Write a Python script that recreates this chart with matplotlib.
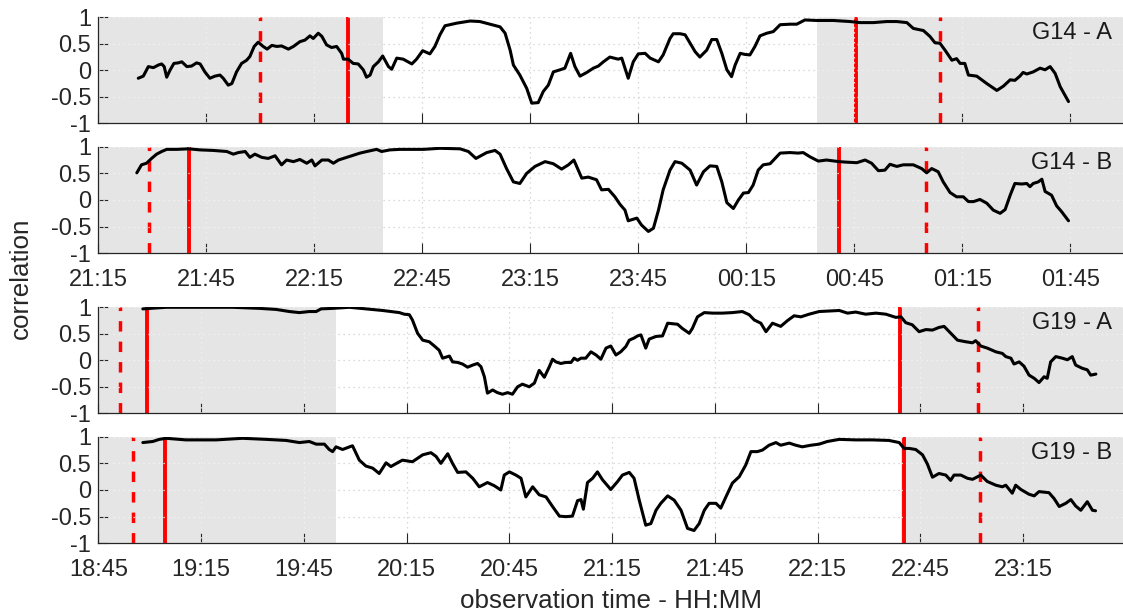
import numpy as np
import matplotlib
matplotlib.use("Agg")
import matplotlib.pyplot as plt
import matplotlib.transforms as mtransforms
from matplotlib.ticker import FixedLocator, FuncFormatter

plt.rcParams['font.family'] = ['Liberation Sans', 'DejaVu Sans']
plt.rcParams['axes.unicode_minus'] = False

# ---------------------------------------------------------------------------
# Correlation series: (minutes after session start, correlation)
# G14 sessions start at 21:15, G19 sessions start at 18:45
# ---------------------------------------------------------------------------
g14_start = 21 * 60 + 15
g19_start = 18 * 60 + 45

g14a = [
    (11.1, -0.15), (12.5, -0.11), (13.9, 0.07), (15.3, 0.05), (16.7, 0.10), (17.6, 0.12),
    (18.3, 0.07), (19.0, -0.13), (19.9, 0.0), (21.0, 0.13), (22.2, 0.14), (23.2, 0.16),
    (24.6, 0.07), (25.9, 0.08), (27.3, 0.14), (28.3, 0.12), (29.6, -0.03), (31.0, -0.15),
    (32.4, -0.11), (33.8, -0.09), (34.7, -0.15), (36.1, -0.28), (37.1, -0.25), (38.4, -0.03),
    (39.8, 0.13), (41.2, 0.19), (42.1, 0.26), (43.3, 0.45), (44.4, 0.53), (45.8, 0.45),
    (46.9, 0.40), (48.2, 0.47), (49.6, 0.45), (50.9, 0.46), (52.8, 0.40), (54.2, 0.45),
    (56.0, 0.54), (57.4, 0.57), (58.8, 0.65), (59.7, 0.60), (61.1, 0.70), (62.1, 0.64),
    (63.4, 0.48), (64.8, 0.43), (66.2, 0.45), (67.6, 0.32), (68.1, 0.21), (69.4, 0.21),
    (70.8, 0.13), (72.2, 0.12), (73.6, 0.01), (74.5, -0.13), (75.5, -0.09), (76.4, 0.07),
    (77.8, 0.16), (79.0, 0.27), (80.6, 0.07), (81.5, 0.02), (82.9, 0.23), (84.7, 0.21),
    (87.1, 0.12), (88.4, 0.21), (90.1, 0.37), (92.1, 0.31), (93.5, 0.45), (94.9, 0.67),
    (96.3, 0.84), (99.6, 0.89), (103.3, 0.93), (106.0, 0.92), (108.8, 0.87), (111.6, 0.82),
    (113.0, 0.70), (114.4, 0.38), (115.3, 0.10), (117.1, -0.09), (119.0, -0.34), (120.4, -0.62),
    (122.2, -0.61), (123.6, -0.40), (125.0, -0.28), (126.4, -0.03), (128.3, 0.01), (129.6, 0.04),
    (131.2, 0.32), (132.4, 0.07), (133.8, -0.11), (135.7, -0.04), (137.5, 0.04), (138.9, 0.08),
    (140.3, 0.16), (142.1, 0.25), (144.4, 0.21), (145.4, 0.23), (147.2, -0.15), (148.6, 0.16),
    (150.0, 0.31), (151.9, 0.32), (153.3, 0.23), (155.6, 0.16), (156.9, 0.29), (158.8, 0.60),
    (159.7, 0.69), (161.6, 0.69), (163.0, 0.67), (164.4, 0.51), (165.8, 0.35), (167.1, 0.25),
    (169.0, 0.38), (170.4, 0.58), (171.8, 0.58), (173.2, 0.32), (174.6, 0.01), (175.9, -0.12),
    (176.9, 0.10), (178.3, 0.32), (179.6, 0.30), (181.0, 0.29), (182.4, 0.45), (183.8, 0.65),
    (185.7, 0.70), (187.5, 0.73), (189.4, 0.86), (192.1, 0.87), (194.0, 0.87), (196.3, 0.95),
    (199.6, 0.94), (204.2, 0.94), (208.8, 0.92), (211.6, 0.90), (215.3, 0.90), (219.0, 0.92),
    (221.8, 0.92), (224.6, 0.90), (226.4, 0.79), (229.2, 0.75), (231.0, 0.64), (232.4, 0.52),
    (233.8, 0.51), (235.2, 0.38), (237.1, 0.19), (238.4, 0.22), (239.4, 0.13), (240.7, 0.13),
    (241.7, -0.09), (244.0, -0.11), (246.8, -0.25), (249.6, -0.38), (251.4, -0.30), (253.3, -0.18),
    (254.6, -0.19), (256.0, -0.11), (256.9, -0.04), (257.9, -0.07), (259.7, -0.03), (261.6, 0.04),
    (263.0, 0.01), (264.4, 0.07), (265.8, -0.06), (267.2, -0.31), (269.5, -0.59),
]

g14b = [
    (10.7, 0.51), (12.0, 0.66), (13.4, 0.69), (14.8, 0.78), (16.2, 0.86), (17.6, 0.91),
    (19.0, 0.95), (21.8, 0.95), (25.1, 0.96), (28.3, 0.94), (31.9, 0.93), (35.7, 0.91),
    (37.5, 0.86), (38.9, 0.89), (40.8, 0.91), (42.1, 0.80), (43.5, 0.86), (45.4, 0.80),
    (47.2, 0.78), (49.1, 0.83), (50.9, 0.66), (52.3, 0.75), (54.2, 0.72), (56.0, 0.76),
    (57.9, 0.69), (59.3, 0.75), (60.2, 0.64), (62.1, 0.75), (63.9, 0.75), (65.3, 0.69),
    (66.7, 0.75), (68.1, 0.78), (70.8, 0.84), (72.7, 0.88), (74.6, 0.91), (77.3, 0.95),
    (78.7, 0.91), (81.0, 0.94), (83.8, 0.95), (90.3, 0.95), (94.9, 0.97), (100.5, 0.96),
    (102.8, 0.91), (104.9, 0.78), (107.9, 0.89), (110.2, 0.93), (111.6, 0.86), (113.4, 0.59),
    (115.3, 0.34), (117.1, 0.31), (119.0, 0.50), (121.3, 0.63), (124.1, 0.72), (126.4, 0.68),
    (128.7, 0.58), (130.6, 0.66), (132.1, 0.75), (134.3, 0.41), (136.1, 0.43), (138.4, 0.38),
    (139.8, 0.19), (141.7, 0.20), (143.5, 0.06), (144.9, -0.08), (146.3, -0.19), (147.2, -0.39),
    (149.6, -0.34), (150.9, -0.47), (152.8, -0.59), (154.2, -0.53), (155.6, -0.19), (156.9, 0.19),
    (158.8, 0.56), (160.2, 0.72), (162.1, 0.69), (164.4, 0.56), (166.2, 0.28), (168.1, 0.53),
    (169.9, 0.64), (171.8, 0.63), (173.2, 0.34), (174.6, -0.05), (176.4, -0.16), (177.8, 0.0),
    (179.2, 0.13), (180.6, 0.14), (181.9, 0.28), (183.3, 0.56), (184.7, 0.66), (186.6, 0.68),
    (189.4, 0.88), (192.1, 0.89), (194.4, 0.88), (195.8, 0.89), (197.7, 0.81), (200.0, 0.73),
    (202.3, 0.75), (205.7, 0.72), (207.9, 0.71), (210.7, 0.70), (213.0, 0.75), (214.8, 0.69),
    (216.7, 0.55), (218.5, 0.56), (219.9, 0.67), (221.8, 0.63), (223.6, 0.66), (226.4, 0.66),
    (228.7, 0.59), (230.1, 0.51), (231.5, 0.59), (233.3, 0.53), (234.7, 0.34), (236.6, 0.14),
    (238.4, 0.06), (240.3, 0.06), (241.7, -0.03), (243.1, -0.03), (244.9, 0.01), (246.8, -0.06),
    (248.6, -0.19), (250.5, -0.25), (251.9, -0.18), (253.3, 0.09), (254.6, 0.31), (256.5, 0.30),
    (257.9, 0.31), (258.8, 0.25), (259.7, 0.31), (261.1, 0.34), (262.1, 0.39), (263.0, 0.16),
    (264.8, 0.09), (266.2, -0.11), (267.6, -0.22), (269.5, -0.39),
]

g19a = [
    (13.0, 0.97), (19.8, 1.0), (29.5, 1.0), (39.2, 1.0), (47.0, 0.98), (51.9, 0.96),
    (55.8, 0.92), (58.7, 0.90), (61.6, 0.92), (63.6, 0.92), (65.0, 0.97), (68.4, 0.98),
    (73.3, 1.0), (78.1, 0.97), (83.0, 0.94), (87.9, 0.90), (89.3, 0.87), (90.8, 0.86),
    (91.7, 0.76), (93.2, 0.51), (94.7, 0.38), (96.6, 0.35), (98.1, 0.27), (99.5, 0.19),
    (100.5, 0.04), (102.5, 0.08), (103.4, -0.03), (104.9, -0.04), (106.3, -0.07), (107.8, -0.13),
    (109.3, -0.09), (110.7, -0.06), (111.7, -0.12), (112.7, -0.31), (113.6, -0.62), (115.1, -0.56),
    (116.5, -0.61), (118.0, -0.64), (119.5, -0.61), (120.9, -0.64), (122.4, -0.50), (123.8, -0.45),
    (125.8, -0.50), (127.3, -0.43), (128.7, -0.19), (130.2, -0.32), (131.6, -0.13), (132.6, 0.02),
    (133.6, -0.03), (135.0, -0.06), (136.5, -0.04), (138.0, -0.04), (138.9, 0.04), (139.9, 0.0),
    (140.9, 0.04), (142.3, 0.04), (143.8, 0.16), (145.3, 0.10), (146.7, 0.02), (148.2, 0.23),
    (149.6, 0.27), (151.1, 0.10), (152.5, 0.16), (154.0, 0.26), (155.0, 0.38), (156.4, 0.42),
    (157.4, 0.46), (158.4, 0.48), (159.8, 0.23), (160.8, 0.40), (162.8, 0.45), (164.7, 0.46),
    (166.2, 0.70), (167.6, 0.69), (169.1, 0.68), (170.5, 0.60), (172.5, 0.51), (173.4, 0.60),
    (174.9, 0.82), (176.9, 0.90), (179.3, 0.89), (182.2, 0.89), (185.1, 0.90), (188.0, 0.92),
    (190.0, 0.86), (191.5, 0.76), (193.4, 0.70), (194.9, 0.54), (196.8, 0.70), (199.2, 0.64),
    (201.2, 0.75), (203.1, 0.84), (205.1, 0.82), (207.5, 0.87), (210.4, 0.92), (213.3, 0.93),
    (216.3, 0.94), (218.7, 0.89), (221.1, 0.91), (224.0, 0.87), (227.0, 0.89), (229.9, 0.87),
    (232.8, 0.81), (234.3, 0.82), (235.7, 0.71), (237.6, 0.67), (239.6, 0.54), (241.6, 0.58),
    (243.5, 0.57), (245.4, 0.62), (246.9, 0.64), (248.4, 0.54), (250.8, 0.38), (253.2, 0.35),
    (255.2, 0.33), (256.1, 0.37), (257.6, 0.27), (259.5, 0.23), (262.0, 0.16), (263.9, 0.13),
    (264.9, 0.07), (266.4, 0.04), (267.3, -0.07), (268.8, -0.03), (270.2, -0.11), (271.7, -0.28),
    (273.2, -0.34), (274.6, -0.42), (276.1, -0.31), (277.0, -0.34), (278.0, -0.03), (279.5, 0.07),
    (281.4, 0.04), (282.9, 0.01), (284.3, 0.07), (285.3, -0.09), (287.2, -0.15), (288.7, -0.18),
    (289.7, -0.28), (291.2, -0.26),
]

g19b = [
    (13.0, 0.89), (15.9, 0.91), (17.8, 0.95), (19.8, 0.97), (25.6, 0.94), (34.4, 0.94),
    (42.1, 0.97), (49.0, 0.95), (54.8, 0.93), (58.7, 0.89), (61.6, 0.91), (63.6, 0.86),
    (66.0, 0.86), (67.4, 0.76), (68.4, 0.72), (69.4, 0.81), (71.3, 0.76), (74.2, 0.83),
    (76.2, 0.56), (78.1, 0.45), (80.1, 0.41), (82.0, 0.31), (84.0, 0.51), (85.4, 0.44),
    (87.9, 0.53), (88.8, 0.56), (91.7, 0.53), (94.7, 0.66), (97.1, 0.70), (98.6, 0.63),
    (100.0, 0.50), (102.0, 0.68), (103.4, 0.50), (104.9, 0.33), (107.3, 0.34), (109.3, 0.22),
    (111.2, 0.06), (113.6, 0.14), (115.6, 0.08), (117.5, 0.0), (118.5, 0.28), (120.0, 0.34),
    (121.9, 0.28), (123.4, 0.22), (124.8, -0.13), (126.8, 0.06), (128.7, -0.09), (130.7, -0.13),
    (132.6, -0.31), (134.6, -0.49), (136.5, -0.50), (138.4, -0.49), (139.9, -0.20), (140.9, -0.18),
    (141.6, -0.36), (142.8, 0.14), (144.3, 0.22), (145.7, 0.34), (147.2, 0.19), (149.6, 0.01),
    (151.6, 0.16), (153.0, 0.28), (155.0, 0.33), (156.4, 0.22), (157.9, -0.19), (159.8, -0.66),
    (161.3, -0.63), (162.8, -0.38), (164.2, -0.25), (166.2, -0.11), (168.1, -0.19), (170.1, -0.38),
    (172.0, -0.72), (173.9, -0.76), (175.4, -0.63), (176.9, -0.38), (178.3, -0.25), (180.3, -0.25),
    (181.7, -0.34), (183.2, -0.13), (185.1, 0.13), (187.1, 0.25), (189.0, 0.47), (190.5, 0.72),
    (192.4, 0.72), (193.9, 0.75), (195.8, 0.84), (197.8, 0.89), (199.2, 0.84), (201.7, 0.88),
    (203.6, 0.84), (205.5, 0.81), (208.0, 0.84), (210.4, 0.86), (212.8, 0.91), (216.3, 0.95),
    (221.1, 0.94), (226.0, 0.94), (230.8, 0.93), (233.8, 0.89), (235.2, 0.78), (236.7, 0.78),
    (238.6, 0.76), (240.6, 0.66), (242.0, 0.49), (243.5, 0.24), (245.4, 0.31), (247.4, 0.28),
    (248.8, 0.18), (249.8, 0.28), (251.8, 0.28), (253.7, 0.22), (255.2, 0.20), (257.6, 0.28),
    (259.5, 0.16), (262.0, 0.09), (263.9, 0.06), (264.9, 0.09), (266.8, -0.06), (267.8, 0.09),
    (269.3, 0.01), (271.7, -0.08), (273.2, -0.11), (274.6, -0.03), (277.5, -0.05), (279.0, -0.16),
    (280.5, -0.31), (282.4, -0.25), (283.9, -0.18), (285.3, -0.30), (286.8, -0.38), (288.7, -0.22),
    (290.2, -0.38), (291.1, -0.39),
]

# Shaded intervals (minutes after session start)
g14_shade = [(0.0, 79.2), (199.6, 285.0)]
g19_shade = [(0.0, 69.4), (234.4, 299.5)]

# Event markers in minutes after session start
g14a_solid = [69.4, 210.4]
g14a_dashed = [44.9, 233.8]
g14b_solid = [25.1, 205.7]
g14b_dashed = [14.2, 229.8]
g19a_solid = [14.1, 234.1]
g19a_dashed = [6.4, 256.8]
g19b_solid = [19.6, 235.2]
g19b_dashed = [10.0, 257.5]

panel_names = ["G14 - A", "G14 - B", "G19 - A", "G19 - B"]
y_ticks = [-1, -0.5, 0, 0.5, 1]
x_ticks = list(range(0, 271, 30))

# ---------------------------------------------------------------------------
TEXT = '#262626'
SHADE = '#e5e5e5'
FS = 17.0
FS_LABEL = 18.7

W, H = 1123, 614
fig = plt.figure(figsize=(W / 100, H / 100), dpi=100)

left = 98.3 / W
width = 1026.0 / W
rows_px = [(17.3, 123.3), (146.7, 253.3), (307.3, 413.3), (436.7, 543.3)]

panels = [
    dict(data=g14a, start=g14_start, xmax=285.0, shade=g14_shade,
         solid=g14a_solid, dashed=g14a_dashed, labels=False),
    dict(data=g14b, start=g14_start, xmax=285.0, shade=g14_shade,
         solid=g14b_solid, dashed=g14b_dashed, labels=True),
    dict(data=g19a, start=g19_start, xmax=299.5, shade=g19_shade,
         solid=g19a_solid, dashed=g19a_dashed, labels=False),
    dict(data=g19b, start=g19_start, xmax=299.5, shade=g19_shade,
         solid=g19b_solid, dashed=g19b_dashed, labels=True),
]


def clock_formatter(start):
    def fmt(m, pos):
        total = int(round(start + m))
        return f"{(total // 60) % 24:02d}:{total % 60:02d}"
    return FuncFormatter(fmt)


for name, p, (top, bot) in zip(panel_names, panels, rows_px):
    ax = fig.add_axes([left, 1 - bot / H, width, (bot - top) / H])
    ax.set_xlim(0, p['xmax'])
    ax.set_ylim(-1, 1)

    # dotted grid underneath everything
    for y in y_ticks:
        ax.axhline(y, color='#cfcfcf', lw=0.9, ls=(0, (1, 3)), zorder=0.2)
    for x in x_ticks:
        ax.axvline(x, color='#cfcfcf', lw=0.9, ls=(0, (1, 3)), zorder=0.2)

    # shaded windows, with a faint grid drawn across them
    for a, b in p['shade']:
        ax.axvspan(a, b, color=SHADE, lw=0, zorder=0.5)
    for a, b in p['shade']:
        ax.hlines(y_ticks, a, b, colors='#f4f4f4', lw=0.9, linestyles=(0, (1, 3)), zorder=2.5)
        xs = [x for x in x_ticks if a < x < b]
        if xs:
            ax.vlines(xs, -1, 1, colors='#f4f4f4', lw=0.9, linestyles=(0, (1, 3)), zorder=2.5)

    # event markers
    for x in p['solid']:
        ax.axvline(x, color='#ff0000', lw=2.8, zorder=2)
    for x in p['dashed']:
        ax.axvline(x, color='#ff0000', lw=2.5, dashes=(3.0, 2.9), zorder=2)

    t, v = zip(*p['data'])
    ax.plot(t, v, color='black', lw=2.2, solid_joinstyle='round',
            solid_capstyle='round', zorder=3)

    ax.text(0.988, 0.7, name,
            transform=mtransforms.blended_transform_factory(ax.transAxes, ax.transData),
            ha='right', va='center', fontsize=FS, color='#1a1a1a', zorder=5)

    ax.set_facecolor('white')
    for side in ('top', 'right'):
        ax.spines[side].set_visible(False)
    for side in ('left', 'bottom'):
        ax.spines[side].set_color(TEXT)
        ax.spines[side].set_linewidth(0.9)
        ax.spines[side].set_zorder(4)

    ax.yaxis.set_major_locator(FixedLocator(y_ticks))
    ax.yaxis.set_major_formatter(FuncFormatter(lambda y, pos: f"{y:g}"))
    ax.xaxis.set_major_locator(FixedLocator(x_ticks))
    ax.xaxis.set_major_formatter(clock_formatter(p['start']))

    ax.tick_params(axis='both', direction='in', length=7, width=0.8, color=TEXT,
                   labelsize=FS, labelcolor=TEXT, top=False, right=False)
    ax.tick_params(axis='y', pad=5)
    ax.tick_params(axis='x', pad=11, labelbottom=p['labels'])

fig.text(20.5 / W, 1 - 278 / H, 'correlation', rotation=90, ha='center', va='center',
         fontsize=FS_LABEL, color=TEXT)
fig.text(611 / W, 1 - 601 / H, 'observation time - HH:MM', ha='center', va='center',
         fontsize=FS_LABEL, color=TEXT)

fig.savefig('out.png', dpi=100)
